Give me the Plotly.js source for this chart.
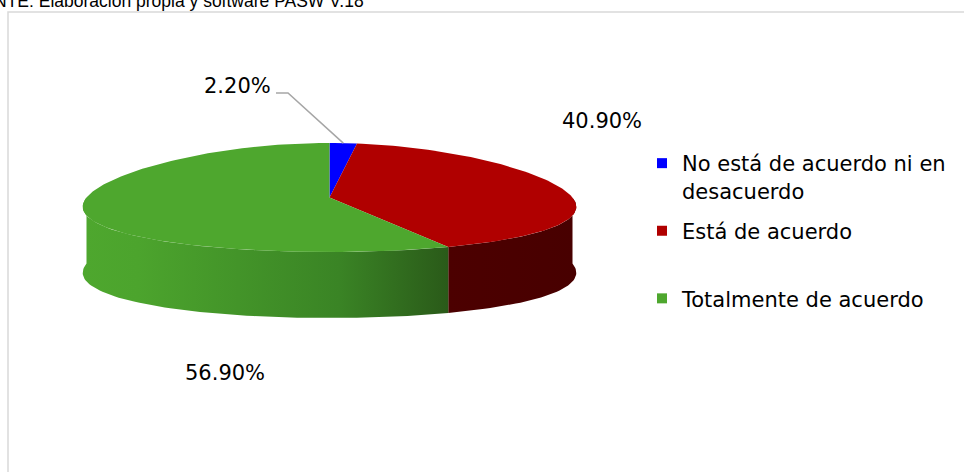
<!DOCTYPE html>
<html>
<head>
<meta charset="utf-8">
<script src="https://cdn.plot.ly/plotly-3.0.1.min.js"></script>
<style>html,body{margin:0;padding:0;background:#fff;}#chart{width:964px;height:472px;}</style>
</head>
<body>
<div id="chart"></div>
<script>
// ---- data ----
const categories = ['No está de acuerdo ni en desacuerdo', 'Está de acuerdo', 'Totalmente de acuerdo'];
const legendLabels = ['No está de acuerdo ni en<br>desacuerdo', 'Está de acuerdo<br> ', 'Totalmente de acuerdo'];
const values = [2.2, 40.9, 56.9];
const sourceNote = 'FUENTE: Elaboración propia y software PASW V.18';

// ---- styles / layout constants ----
const topColors = ['#0000ff', '#b00000', '#4ea72e'];
const sideScales = [
  [[0, '#00008a'], [1, '#000060']],
  [[0, '#4c0000'], [1, '#480000']],
  [[0, '#4ea72e'], [0.15, '#4ca42d'], [0.7, '#3a8425'], [1, '#2a5a19']]
];
const labelPos = [[237, 86], [602, 121], [225, 373]];
const CX = 329.5, CY = 197.5, RX = 243, RY = 54.5, DEPTH = 66, PERSP = 0.18;
const FONT = 'DejaVu Sans, Liberation Sans, Arial, sans-serif';

function pt(deg, dy) {
  const r = deg * Math.PI / 180;
  const c = Math.cos(r);
  return [CX + RX * Math.sin(r) * (1 - PERSP * c), CY - RY * c + dy];
}
function arc(a0, a1, dy) {
  const pts = [];
  const n = Math.max(2, Math.ceil((a1 - a0) / 1.5));
  for (let k = 0; k <= n; k++) pts.push(pt(a0 + (a1 - a0) * k / n, dy));
  return pts;
}

const total = values.reduce((s, v) => s + v, 0);
const angles = [];
let acc = 0;
values.forEach(v => { const a0 = acc / total * 360; acc += v; angles.push([a0, acc / total * 360]); });

const traces = [];
// side walls (front half only)
angles.forEach(([a0, a1], i) => {
  const lo = Math.max(a0, 90), hi = Math.min(a1, 270);
  if (lo >= hi) return;
  const top = arc(lo, hi, 0);
  const bot = arc(lo, hi, DEPTH).reverse();
  const poly = top.concat(bot);
  poly.push(top[0]);
  traces.push({
    type: 'scatter', mode: 'lines', fill: 'toself',
    x: poly.map(p => p[0]), y: poly.map(p => p[1]),
    line: {width: 0, color: 'rgba(0,0,0,0)'},
    fillcolor: topColors[i],
    fillgradient: {type: 'horizontal', colorscale: sideScales[i]},
    hoverinfo: 'skip', showlegend: false
  });
});
// top faces
angles.forEach(([a0, a1], i) => {
  const poly = [[CX, CY]].concat(arc(a0, a1, 0));
  poly.push([CX, CY]);
  traces.push({
    type: 'scatter', mode: 'lines', fill: 'toself',
    x: poly.map(p => p[0]), y: poly.map(p => p[1]),
    line: {width: 0, color: 'rgba(0,0,0,0)'},
    fillcolor: topColors[i],
    name: categories[i], hoverinfo: 'name', showlegend: false
  });
});
// leader line for the small slice
{
  const mid = (angles[0][0] + angles[0][1]) / 2;
  const end = pt(mid, 0);
  const sx = labelPos[0][0] + 39, sy = labelPos[0][1] + 7;
  traces.push({
    type: 'scatter', mode: 'lines',
    x: [sx, sx + 12, end[0]], y: [sy, sy, end[1]],
    line: {color: '#a6a6a6', width: 1.5},
    hoverinfo: 'skip', showlegend: false
  });
}
// legend entries
categories.forEach((c, i) => {
  traces.push({
    type: 'scatter', mode: 'markers', x: [null], y: [null],
    name: legendLabels[i], legendgroup: 'g' + i,
    marker: {symbol: 'square', size: 10, color: topColors[i]},
    showlegend: true, hoverinfo: 'skip'
  });
});

const annotations = values.map((v, i) => ({
  xref: 'x', yref: 'y', x: labelPos[i][0], y: labelPos[i][1],
  text: v.toFixed(2) + '%', showarrow: false,
  xanchor: 'center', yanchor: 'middle',
  font: {family: FONT, size: 21, color: '#000000'}
}));
annotations.push({
  xref: 'paper', yref: 'paper', x: -43 / 964, y: 1 - 13 / 472,
  xanchor: 'left', yanchor: 'bottom', showarrow: false,
  text: sourceNote, font: {family: 'Liberation Sans, Arial, sans-serif', size: 17.5, color: '#000000'}
});

const layout = {
  width: 964, height: 472,
  margin: {l: 0, r: 0, t: 0, b: 0, pad: 0},
  paper_bgcolor: '#ffffff', plot_bgcolor: '#ffffff',
  xaxis: {range: [0, 964], visible: false, fixedrange: true},
  yaxis: {range: [472, 0], visible: false, fixedrange: true},
  showlegend: true,
  legend: {
    x: 642 / 964, y: 1 - 143 / 472, xanchor: 'left', yanchor: 'top',
    font: {family: FONT, size: 21, color: '#000000'},
    bgcolor: 'rgba(0,0,0,0)', valign: 'top', traceorder: 'grouped',
    tracegroupgap: 10
  },
  annotations: annotations,
  shapes: [{
    type: 'rect', xref: 'paper', yref: 'paper',
    x0: 8 / 964, x1: 1.05, y0: -0.05, y1: 1 - 12 / 472,
    line: {color: '#d9d9d9', width: 1.5}, fillcolor: 'rgba(0,0,0,0)', layer: 'below'
  }]
};

Plotly.newPlot('chart', traces, layout, {displayModeBar: false, staticPlot: true});
</script>
</body>
</html>
